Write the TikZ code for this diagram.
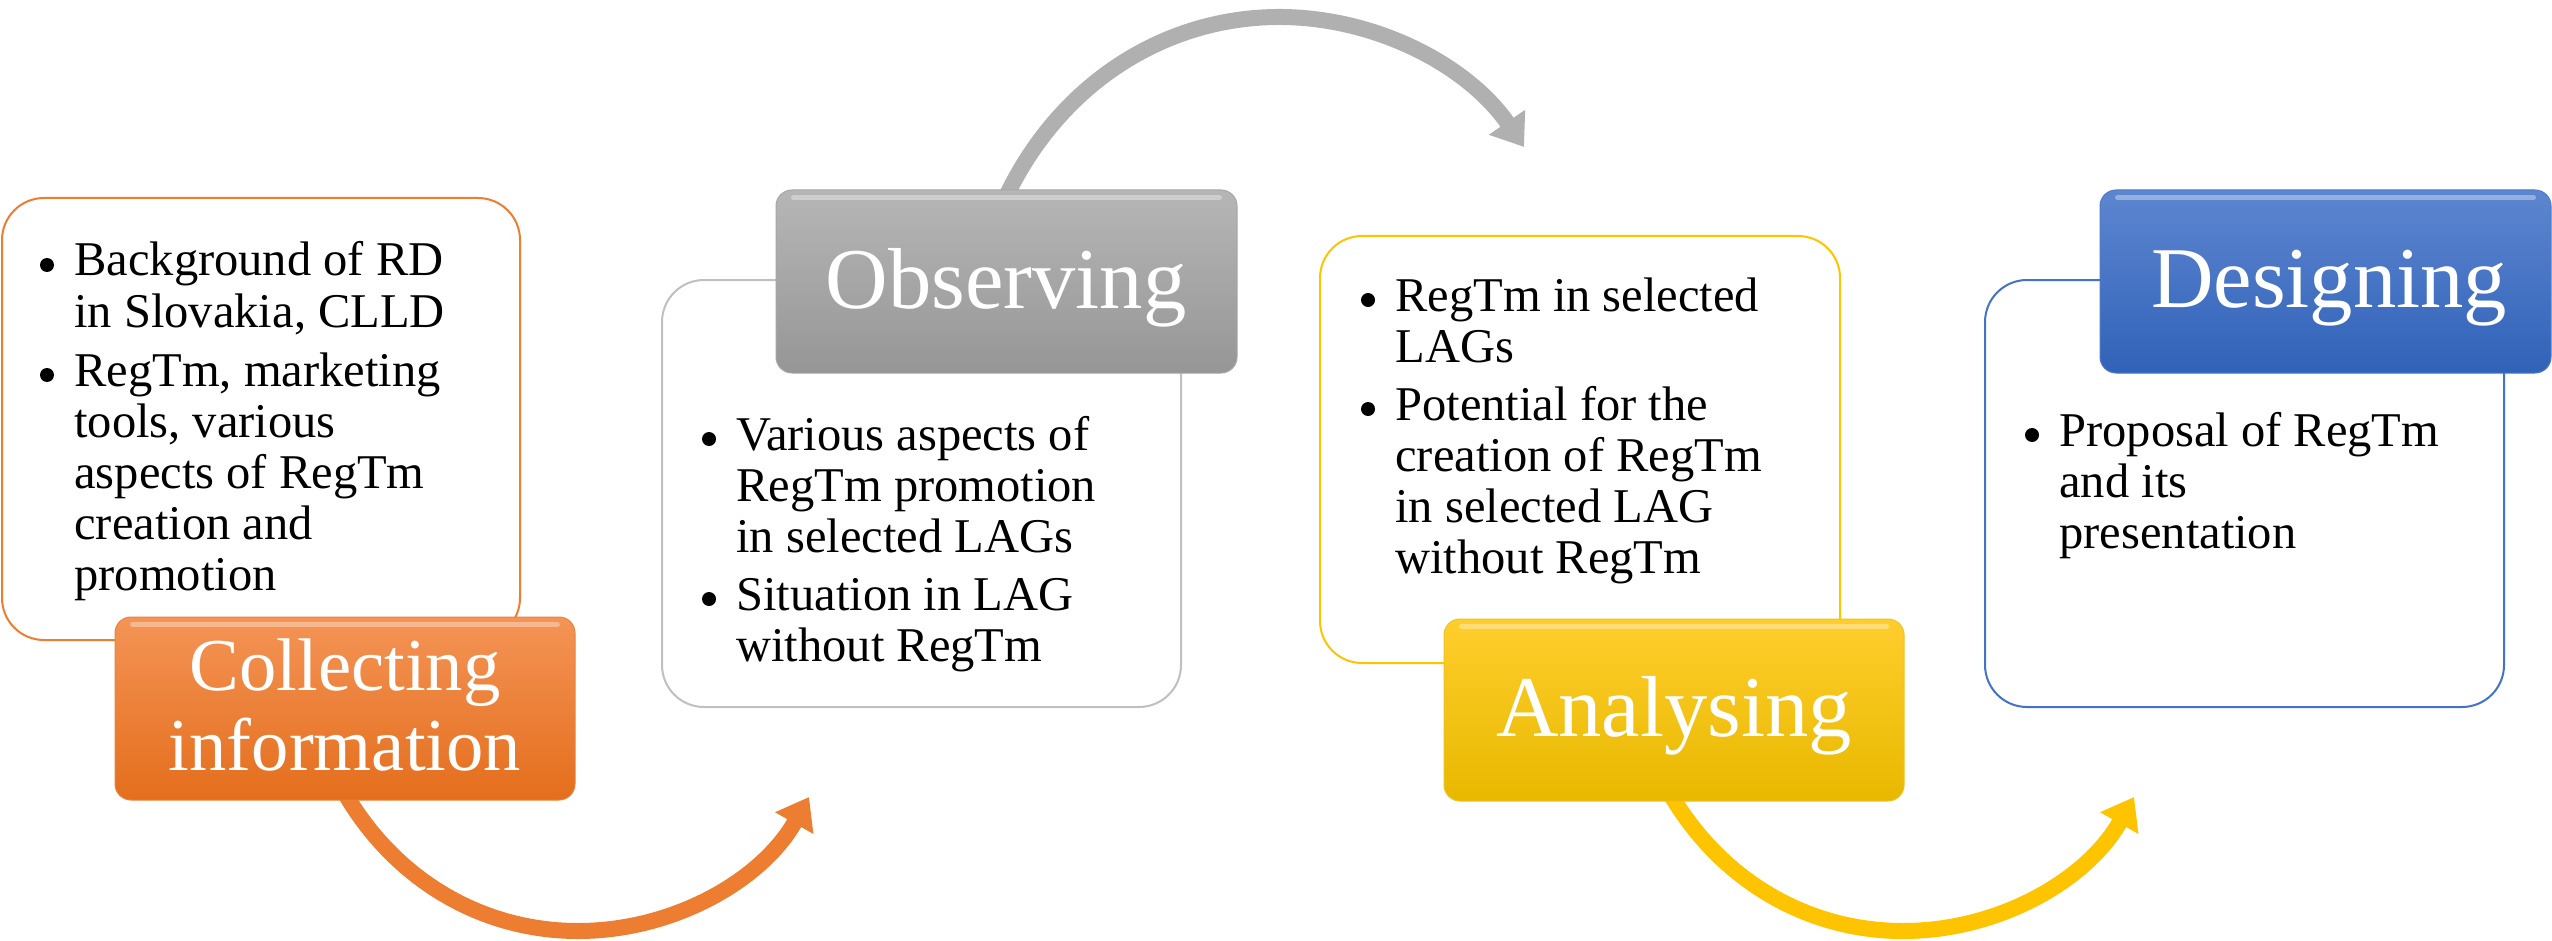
\documentclass[tikz,border=0pt]{standalone}
\usepackage{fontspec}
\setmainfont{Liberation Serif}
\usetikzlibrary{fit,arrows.meta}
\definecolor{orM}{RGB}{237,125,49}
\definecolor{orT}{RGB}{244,148,86}
\definecolor{orB}{RGB}{228,110,28}
\definecolor{grM}{RGB}{176,176,176}
\definecolor{grL}{RGB}{192,192,192}
\definecolor{grT}{RGB}{182,182,182}
\definecolor{grB}{RGB}{150,150,150}
\definecolor{yeM}{RGB}{255,196,0}
\definecolor{yeT}{RGB}{255,206,45}
\definecolor{yeB}{RGB}{232,184,0}
\definecolor{blM}{RGB}{68,114,196}
\definecolor{blT}{RGB}{94,134,208}
\definecolor{blB}{RGB}{48,98,184}
\begin{document}
\begin{tikzpicture}[x=0.5pt,y=-0.5pt,
  box/.style={draw=#1, line width=1pt, rounded corners=21pt, fill=white, inner sep=0pt},
  ttl/.style 2 args={rounded corners=8pt, inner sep=0pt, top color=#1, bottom color=#2, draw=#2!85!white, line width=0.5pt},
  gloss/.style={white, opacity=0.35, line width=2.5pt, line cap=round},
  txt/.style={anchor=base west, inner sep=0pt, font=\fontsize{24.25}{25.5}\selectfont},
  bul/.style={circle, fill=black, inner sep=0pt, minimum size=7pt},
  ttxt/.style={anchor=base, inner sep=0pt, text=white, font=\fontsize{43.3}{44}\selectfont},
  ttxtS/.style={anchor=base, inner sep=0pt, text=white, font=\fontsize{37.3}{40}\selectfont},
  arr/.style={line width=8pt, -{Triangle[length=15pt,width=21pt]}}
]
\fill[white] (0,0) rectangle (2552,941);
\useasboundingbox (0,0) rectangle (2552,941);

% content boxes
\node[box=orM, fit={(2,198) (520,640)}] (b1) {};
\node[box=grL, fit={(662,280) (1181,707)}] (b2) {};
\node[box=yeM, fit={(1320,236) (1840,663)}] (b3) {};
\node[box=blM, fit={(1985,280) (2504,707)}] (b4) {};

% curved arrows
\coordinate (o1) at (343,790);
\coordinate (o2) at (578,931);
\coordinate (o3) at (809,797);
\draw[arr, orM] (o1) .. controls (394,880) and (482,931) .. (o2)
  .. controls (674,931) and (762,880) .. (o3);

\coordinate (g1) at (1004,201);
\coordinate (g2) at (1282,17);
\coordinate (g3) at (1524,147);
\draw[arr, grM] (g1) .. controls (1058,84) and (1165,16) .. (g2)
  .. controls (1379,18) and (1469,67) .. (g3);

\coordinate (y1) at (1668,790);
\coordinate (y2) at (1903,931);
\coordinate (y3) at (2134,797);
\draw[arr, yeM] (y1) .. controls (1719,880) and (1807,931) .. (y2)
  .. controls (1999,931) and (2087,880) .. (y3);

% title boxes
\node[ttl={orT}{orB}, fit={(115,617) (575,800)}] (t1) {};
\node[ttl={grT}{grB}, fit={(776,190) (1237,373)}] (t2) {};
\node[ttl={yeT}{yeB}, fit={(1444,619) (1904,801)}] (t3) {};
\node[ttl={blT}{blB}, fit={(2100,190) (2551,373)}] (t4) {};
\foreach \t in {t1,t2,t3,t4}{
  \draw[gloss] ([xshift=9pt,yshift=-4pt]\t.north west) -- ([xshift=-9pt,yshift=-4pt]\t.north east);
}

% title texts
\node[ttxtS] (t1a) at (345,690) {Collecting};
\node[ttxtS] (t1b) at (345,770) {information};
\node[ttxt] (t2a) at (1006,308) {Observing};
\node[ttxt] (t3a) at (1674,736) {Analysing};
\node[ttxt] (t4a) at (2329,307) {Designing};

% box 1 text
\node[bul] (p11) at (47,265) {};
\node[txt] (l11) at (74,276) {Background of RD};
\node[txt] (l12) at (74,327) {in Slovakia, CLLD};
\node[bul] (p12) at (47,375) {};
\node[txt] (l13) at (74,386) {RegTm, marketing};
\node[txt] (l14) at (74,437) {tools, various};
\node[txt] (l15) at (74,488) {aspects of RegTm};
\node[txt] (l16) at (74,539) {creation and};
\node[txt] (l17) at (74,590) {promotion};

% box 2 text
\node[bul] (p21) at (709,439) {};
\node[txt] (l21) at (736,450) {Various aspects of};
\node[txt] (l22) at (736,501) {RegTm promotion};
\node[txt] (l23) at (736,552) {in selected LAGs};
\node[bul] (p22) at (709,599) {};
\node[txt] (l24) at (736,610) {Situation in LAG};
\node[txt] (l25) at (736,661) {without RegTm};

% box 3 text
\node[bul] (p31) at (1368,300) {};
\node[txt] (l31) at (1395,311) {RegTm in selected};
\node[txt] (l32) at (1395,362) {LAGs};
\node[bul] (p32) at (1368,409) {};
\node[txt] (l33) at (1395,420) {Potential for the};
\node[txt] (l34) at (1395,471) {creation of RegTm};
\node[txt] (l35) at (1395,522) {in selected LAG};
\node[txt] (l36) at (1395,573) {without RegTm};

% box 4 text
\node[bul] (p41) at (2032,435) {};
\node[txt] (l41) at (2059,446) {Proposal of RegTm};
\node[txt] (l42) at (2059,497) {and its};
\node[txt] (l43) at (2059,548) {presentation};
\end{tikzpicture}
\end{document}
